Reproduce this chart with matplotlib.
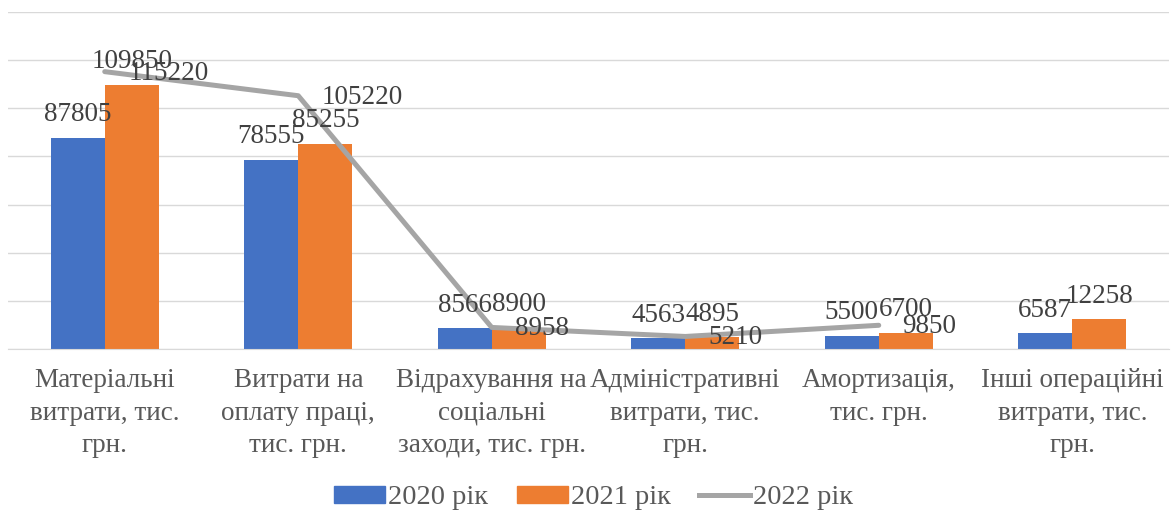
import numpy as np
import matplotlib.pyplot as plt
from matplotlib.patches import Patch
from matplotlib.lines import Line2D

categories = [
    "Матеріальні\nвитрати, тис.\nгрн.",
    "Витрати на\nоплату праці,\nтис. грн.",
    "Відрахування на\nсоціальні\nзаходи, тис. грн.",
    "Адміністративні\nвитрати, тис.\nгрн.",
    "Амортизація,\nтис. грн.",
    "Інші операційні\nвитрати, тис.\nгрн.",
]
values_2020 = [87805, 78555, 8566, 4563, 5500, 6587]
values_2021 = [109850, 85255, 8900, 4895, 6700, 12258]
values_2022 = [115220, 105220, 8958, 5210, 9850, np.nan]

series_names = ["2020 рік", "2021 рік", "2022 рік"]

plt.rcParams['font.family'] = ['Liberation Serif', 'DejaVu Serif']
text_color = '#404040'
fs = 19.5

fig = plt.figure(figsize=(11.71, 5.11), dpi=100)
ax = fig.add_axes([8 / 1171, 1 - 349 / 511, 1161 / 1171, 337 / 511])

x = np.arange(len(categories))
w = 0.28
b1 = ax.bar(x - w / 2, values_2020, w, color='#4472C4', zorder=2)
b2 = ax.bar(x + w / 2, values_2021, w, color='#ED7D31', zorder=2)
ax.plot(x, values_2022, color='#A5A5A5', lw=3.6, zorder=3, solid_capstyle='round')

ax.bar_label(b1, padding=7.5, fontsize=fs, color=text_color)
ax.bar_label(b2, padding=7.5, fontsize=fs, color=text_color)
for xi, v in zip(x, values_2022):
    if not np.isnan(v):
        ax.annotate(f"{int(v)}", (xi, v), xytext=(17, -1), textcoords='offset points',
                    ha='left', va='center', fontsize=fs, color=text_color, zorder=4)

ax.set_xlim(-0.5, len(categories) - 0.5)
ax.set_ylim(0, 140000)
ax.set_yticks(np.arange(0, 140001, 20000))
ax.set_yticklabels([])
ax.tick_params(axis='y', length=0)
ax.grid(axis='y', color='#D9D9D9', lw=1, zorder=0)
ax.set_xticks(x)
ax.set_xticklabels(categories, fontsize=fs, color='#595959', linespacing=1.38)
ax.tick_params(axis='x', length=0, pad=14)
for s in ['top', 'right', 'left']:
    ax.spines[s].set_visible(False)
ax.spines['bottom'].set_color('#D9D9D9')

handles = [
    Patch(color='#4472C4'),
    Patch(color='#ED7D31'),
    Line2D([0], [0], color='#A5A5A5', lw=3.6),
]
leg = fig.legend(handles, series_names, loc='center', bbox_to_anchor=(0.507, 1 - 498 / 511),
                 ncol=3, frameon=False, fontsize=20.5, handlelength=1.8, handleheight=0.5,
                 handletextpad=0.1, columnspacing=1.0, borderaxespad=0)
for t in leg.get_texts():
    t.set_color('#595959')

fig.savefig('out.png', dpi=100)
